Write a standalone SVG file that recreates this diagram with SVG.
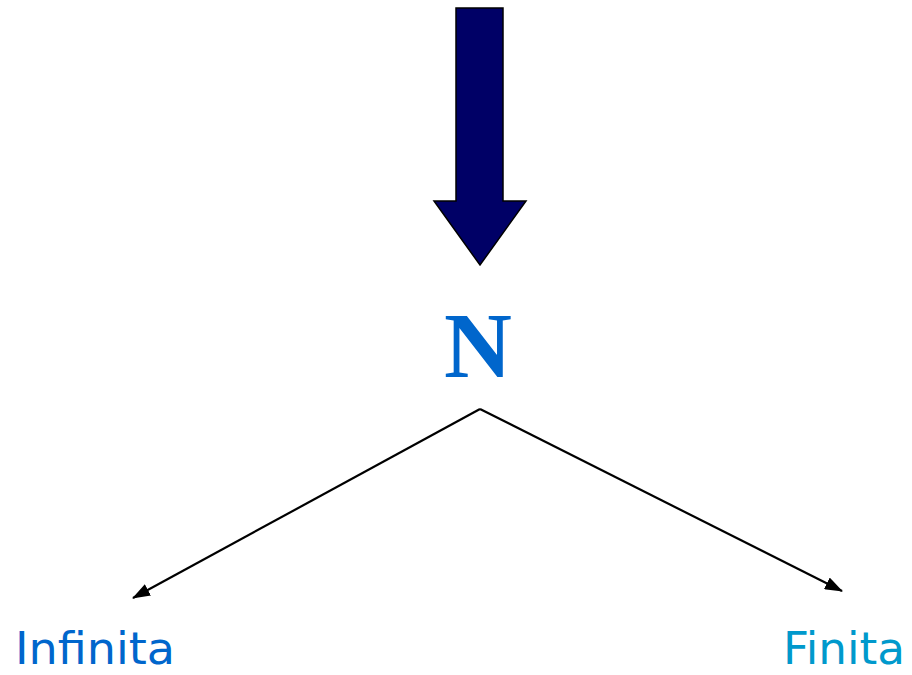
<svg xmlns="http://www.w3.org/2000/svg" width="912" height="675" viewBox="0 0 912 675">
<style>
.lbl{font-family:"DejaVu Sans",Verdana,sans-serif;font-size:44px}
.conn{stroke:#000;stroke-width:2.2;fill:none}
</style>
<defs>
<marker id="ah2" markerWidth="18" markerHeight="13" refX="17" refY="6.5" orient="auto" markerUnits="userSpaceOnUse" viewBox="0 0 18 13">
<path d="M0,0 L18,6.5 L0,13 Z" fill="#000"/>
</marker>
</defs>
<rect width="912" height="675" fill="#fff"/>
<g id="bigArrow">
<path d="M456,8 L503,8 L503,201 L526,201 L480,265 L434,201 L456,201 Z" fill="#000066" stroke="#000" stroke-width="1.5"/>
</g>
<g id="nodeN">
<text x="478" y="377" text-anchor="middle" font-family="'Liberation Serif','Times New Roman',serif" font-weight="bold" font-size="94" fill="#0066CC">N</text>
</g>
<g id="connectors">
<path class="conn" d="M480,409 L133,598" marker-end="url(#ah2)"/>
<path class="conn" d="M480,409 L842,591" marker-end="url(#ah2)"/>
</g>
<g id="nodeInfinita">
<text class="lbl" x="15" y="664" fill="#0066CC" textLength="160" lengthAdjust="spacingAndGlyphs">Infinita</text>
</g>
<g id="nodeFinita">
<text class="lbl" x="783" y="664" fill="#0099CC" textLength="122" lengthAdjust="spacingAndGlyphs">Finita</text>
</g>
</svg>
